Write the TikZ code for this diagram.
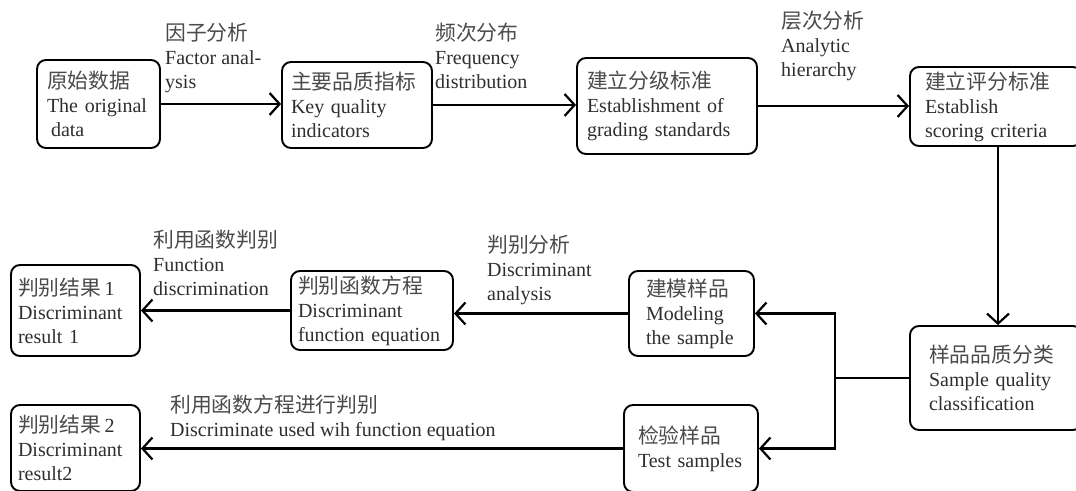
\documentclass[tikz,border=0pt]{standalone}
\usepackage{fontspec}
\setmainfont{Liberation Serif}
\newfontfamily\cjkf[Scale=1.04]{Noto Sans CJK SC}
\newcommand{\cjk}{\cjkf\color{cjkc}}
\usetikzlibrary{arrows.meta,calc}
\definecolor{txt}{HTML}{2E2E2E}
\definecolor{cjkc}{HTML}{4A4A4A}
\begin{document}
\begin{tikzpicture}[x=1pt,y=-1pt,
 every node/.style={font=\fontsize{20}{24}\selectfont, text=txt},
 bx/.style={draw=black, line width=1.9pt, rounded corners=9pt, align=left, inner ysep=0pt},
 lbl/.style={align=left, inner sep=0pt, anchor=north west},
 arr/.style={line width=2.2pt, -{Straight Barb[length=10pt,width=22pt,line width=2.2pt]}},
 ln/.style={line width=2.2pt}]
\useasboundingbox (0,0) rectangle (1076,490);
\clip (0,0) rectangle (1076,490);
% top row
\node[bx, inner xsep=10pt, text width=103pt, minimum height=88pt] (b1) at (98.5,104) {{\cjk 原始数据}\\The original\\\hspace*{4pt}data};
\node[bx, inner xsep=9pt, text width=132pt, minimum height=86pt] (b2) at (357,105) {{\cjk 主要品质指标}\\Key quality\\indicators};
\node[bx, inner xsep=10pt, text width=160pt, minimum height=96pt] (b3) at (667,106) {{\cjk 建立分级标准}\\Establishment of\\grading standards};
\node[bx, inner xsep=15pt, text width=142pt, minimum height=79pt] (b4) at (996,106.5) {{\cjk 建立评分标准}\\Establish\\scoring criteria};
% right
\node[bx, inner xsep=19pt, text width=134pt, minimum height=104pt] (b5) at (996,378) {{\cjk 样品品质分类}\\Sample quality\\classification};
\node[bx, inner xsep=17pt, text width=91pt, minimum height=85pt] (b6) at (691.5,313.5) {{\cjk 建模样品}\\Modeling\\the sample};
\node[bx, inner xsep=14pt, text width=106pt, minimum height=87pt] (b7) at (691,448.5) {{\cjk 检验样品}\\Test samples};
% left
\node[bx, inner xsep=7pt, text width=148pt, minimum height=79pt] (b8) at (372,310.5) {{\cjk 判别函数方程}\\Discriminant\\function equation};
\node[bx, inner xsep=7pt, text width=115pt, minimum height=91pt] (b9) at (75.5,310.5) {{\cjk 判别结果}\,1\\Discriminant\\result 1};
\node[bx, inner xsep=7pt, text width=115pt, minimum height=86pt] (b10) at (75.5,448) {{\cjk 判别结果}\,2\\Discriminant\\result2};
% labels
\node[lbl] (l1) at (165,23) {{\cjk 因子分析}\\Factor anal-\\ysis};
\node[lbl] (l2) at (435,23) {{\cjk 频次分布}\\Frequency\\distribution};
\node[lbl] (l3) at (781,11) {{\cjk 层次分析}\\Analytic\\hierarchy};
\node[lbl] (l4) at (153,230) {{\cjk 利用函数判别}\\Function\\discrimination};
\node[lbl] (l5) at (487,235) {{\cjk 判别分析}\\Discriminant\\analysis};
\node[lbl] (l6) at (170,395) {{\cjk 利用函数方程进行判别}\\Discriminate used wih function equation};
% connectors
\draw[arr] (b1.east) -- (b1.east -| b2.west);
\draw[arr] (b2.east) -- (b2.east -| b3.west);
\draw[arr] (b3.east) -- (b3.east -| b4.west);
\draw[arr] ([xshift=2pt]b4.south) -- ([xshift=2pt]b4.south |- b5.north);
\coordinate (j) at (835,378);
\draw[ln] (b5.west) -- (j);
\draw[arr] (j) |- (b6.east);
\draw[arr] (j) |- (b7.east);
\draw[arr] (b6.west) -- (b6.west -| b8.east);
\draw[arr] (b8.west) -- (b8.west -| b9.east);
\draw[arr] (b7.west) -- (b7.west -| b10.east);
\end{tikzpicture}
\end{document}
